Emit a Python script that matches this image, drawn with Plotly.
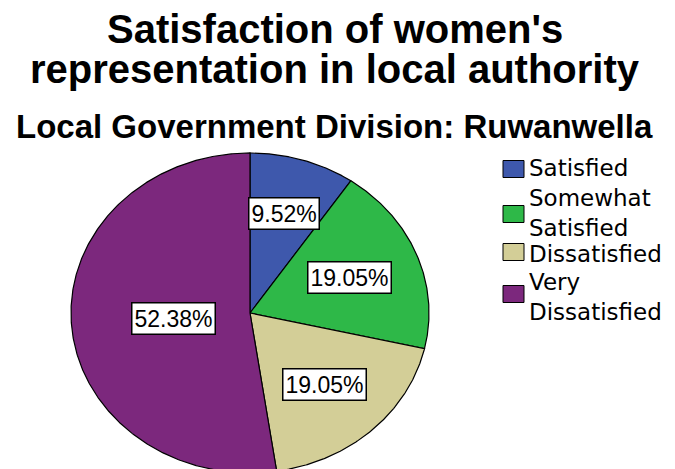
import numpy as np
import plotly.graph_objects as go

# ---- data ----
categories = ["Satisfied", "Somewhat Satisfied", "Dissatisfied", "Very Dissatisfied"]
percentages = [9.52, 19.05, 19.05, 52.38]
slice_colors = ["#3E58AC", "#2EB848", "#D3CE97", "#7C287D"]

title_lines = ["Satisfaction of women's", "representation in local authority"]
subtitle = "Local Government Division: Ruwanwella"

# ---- layout constants (pixels) ----
W, H = 675, 469
CX, CY = 250, 313          # pie centre
RX, RY = 179, 160          # pie radii (pie is drawn slightly wider than tall)
label_radius = [0.65, 0.60, 0.61, 0.43]   # label distance from centre, fraction of radius

FONT = "Liberation Sans, Arial, sans-serif"
LEG_FAMILY = "DejaVu Sans, sans-serif"

# legend layout: swatch centre y and text block centre y per entry
legend_swatch_y = [169, 214, 252, 294]
legend_text_y = [168, 213, 254, 297]
LEG_SWATCH_X0, LEG_SWATCH_X1 = 503, 524
LEG_TEXT_X = 527
LEG_FONT = 23


def px_x(x):
    return x / W


def px_y(y):
    return 1 - y / H


fig = go.Figure()

total = sum(percentages)
start = 0.0
for name, val, col, lr in zip(categories, percentages, slice_colors, label_radius):
    frac = val / total
    # clockwise from 12 o'clock
    a0 = np.pi / 2 - 2 * np.pi * start
    a1 = np.pi / 2 - 2 * np.pi * (start + frac)
    n = max(4, int(frac * 720))
    t = np.linspace(a0, a1, n)
    xs = np.concatenate([[0.0], np.cos(t), [0.0]])
    ys = np.concatenate([[0.0], np.sin(t), [0.0]])
    fig.add_trace(go.Scatter(
        x=xs, y=ys, mode="lines", fill="toself", fillcolor=col,
        line=dict(color="black", width=1.2),
        name=name, showlegend=False, hoverinfo="name",
    ))
    am = (a0 + a1) / 2
    fig.add_annotation(
        x=lr * np.cos(am), y=lr * np.sin(am), xref="x", yref="y",
        text=f"{val:.2f}%", showarrow=False,
        font=dict(family=FONT, size=23, color="black"),
        bgcolor="white", bordercolor="black", borderwidth=1.5, borderpad=2,
    )
    start += frac

# titles
for line, base, size in [(title_lines[0], 42, 40), (title_lines[1], 82, 40), (subtitle, 137, 33)]:
    fig.add_annotation(
        x=0.496, y=px_y(base - 0.33 * size), xref="paper", yref="paper",
        xanchor="center", yanchor="middle", text=line, showarrow=False,
        font=dict(family=FONT, size=size, color="black", weight="bold"),
    )

# legend
for name, col, sy, ty in zip(categories, slice_colors, legend_swatch_y, legend_text_y):
    fig.add_shape(
        type="rect", xref="paper", yref="paper",
        x0=px_x(LEG_SWATCH_X0), x1=px_x(LEG_SWATCH_X1),
        y0=px_y(sy + 8.5), y1=px_y(sy - 8.5),
        fillcolor=col, line=dict(color="black", width=1),
    )
    fig.add_annotation(
        x=px_x(LEG_TEXT_X), y=px_y(ty), xref="paper", yref="paper",
        xanchor="left", yanchor="middle", align="left",
        text="<br>".join(name.split(" ")), showarrow=False,
        font=dict(family=LEG_FAMILY, size=LEG_FONT, color="black"),
    )

fig.update_xaxes(range=[-CX / RX, (W - CX) / RX], visible=False, fixedrange=True)
fig.update_yaxes(range=[-(H - CY) / RY, CY / RY], visible=False, fixedrange=True)
fig.update_layout(
    width=W, height=H,
    margin=dict(l=0, r=0, t=0, b=0, pad=0),
    paper_bgcolor="white", plot_bgcolor="white",
    showlegend=False,
)

fig.write_html("out.html")
